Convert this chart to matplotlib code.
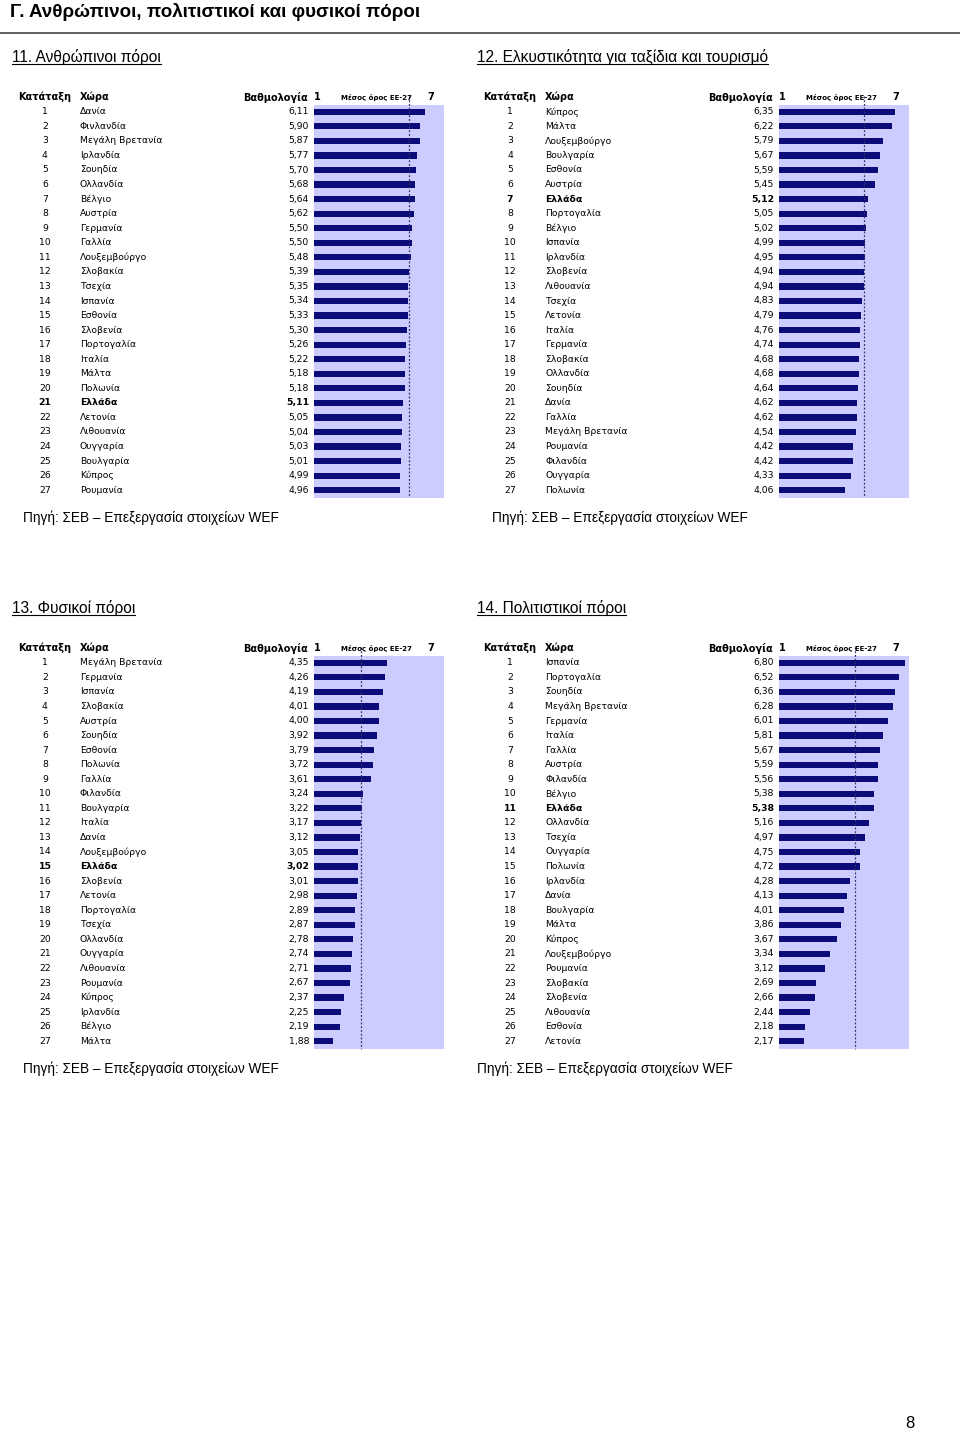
import matplotlib
matplotlib.use("Agg")
import matplotlib.pyplot as plt
import matplotlib.transforms as mtransforms
from matplotlib.lines import Line2D

# Δεδομένα
title_main = "Γ. Ανθρώπινοι, πολιτιστικοί και φυσικοί πόροι"
source = "Πηγή: ΣΕΒ – Επεξεργασία στοιχείων WEF"

t11 = "11. Ανθρώπινοι πόροι"
c11 = ["Δανία", "Φινλανδία", "Μεγάλη Βρετανία", "Ιρλανδία", "Σουηδία", "Ολλανδία",
       "Βέλγιο", "Αυστρία", "Γερμανία", "Γαλλία", "Λουξεμβούργο", "Σλοβακία",
       "Τσεχία", "Ισπανία", "Εσθονία", "Σλοβενία", "Πορτογαλία", "Ιταλία",
       "Μάλτα", "Πολωνία", "Ελλάδα", "Λετονία", "Λιθουανία", "Ουγγαρία",
       "Βουλγαρία", "Κύπρος", "Ρουμανία"]
v11 = [6.11, 5.90, 5.87, 5.77, 5.70, 5.68, 5.64, 5.62, 5.50, 5.50, 5.48, 5.39,
       5.35, 5.34, 5.33, 5.30, 5.26, 5.22, 5.18, 5.18, 5.11, 5.05, 5.04, 5.03,
       5.01, 4.99, 4.96]
m11 = 5.38

t12 = "12. Ελκυστικότητα για ταξίδια και τουρισμό"
c12 = ["Κύπρος", "Μάλτα", "Λουξεμβούργο", "Βουλγαρία", "Εσθονία", "Αυστρία",
       "Ελλάδα", "Πορτογαλία", "Βέλγιο", "Ισπανία", "Ιρλανδία", "Σλοβενία",
       "Λιθουανία", "Τσεχία", "Λετονία", "Ιταλία", "Γερμανία", "Σλοβακία",
       "Ολλανδία", "Σουηδία", "Δανία", "Γαλλία", "Μεγάλη Βρετανία", "Ρουμανία",
       "Φιλανδία", "Ουγγαρία", "Πολωνία"]
v12 = [6.35, 6.22, 5.79, 5.67, 5.59, 5.45, 5.12, 5.05, 5.02, 4.99, 4.95, 4.94,
       4.94, 4.83, 4.79, 4.76, 4.74, 4.68, 4.68, 4.64, 4.62, 4.62, 4.54, 4.42,
       4.42, 4.33, 4.06]
m12 = 4.91

t13 = "13. Φυσικοί πόροι"
c13 = ["Μεγάλη Βρετανία", "Γερμανία", "Ισπανία", "Σλοβακία", "Αυστρία", "Σουηδία",
       "Εσθονία", "Πολωνία", "Γαλλία", "Φιλανδία", "Βουλγαρία", "Ιταλία",
       "Δανία", "Λουξεμβούργο", "Ελλάδα", "Σλοβενία", "Λετονία", "Πορτογαλία",
       "Τσεχία", "Ολλανδία", "Ουγγαρία", "Λιθουανία", "Ρουμανία", "Κύπρος",
       "Ιρλανδία", "Βέλγιο", "Μάλτα"]
v13 = [4.35, 4.26, 4.19, 4.01, 4.00, 3.92, 3.79, 3.72, 3.61, 3.24, 3.22, 3.17,
       3.12, 3.05, 3.02, 3.01, 2.98, 2.89, 2.87, 2.78, 2.74, 2.71, 2.67, 2.37,
       2.25, 2.19, 1.88]
m13 = 3.19

t14 = "14. Πολιτιστικοί πόροι"
c14 = ["Ισπανία", "Πορτογαλία", "Σουηδία", "Μεγάλη Βρετανία", "Γερμανία", "Ιταλία",
       "Γαλλία", "Αυστρία", "Φιλανδία", "Βέλγιο", "Ελλάδα", "Ολλανδία",
       "Τσεχία", "Ουγγαρία", "Πολωνία", "Ιρλανδία", "Δανία", "Βουλγαρία",
       "Μάλτα", "Κύπρος", "Λουξεμβούργο", "Ρουμανία", "Σλοβακία", "Σλοβενία",
       "Λιθουανία", "Εσθονία", "Λετονία"]
v14 = [6.80, 6.52, 6.36, 6.28, 6.01, 5.81, 5.67, 5.59, 5.56, 5.38, 5.38, 5.16,
       4.97, 4.75, 4.72, 4.28, 4.13, 4.01, 3.86, 3.67, 3.34, 3.12, 2.69, 2.66,
       2.44, 2.18, 2.17]
m14 = 4.52

W, H = 960, 1434
fig = plt.figure(figsize=(W / 100, H / 100), dpi=100)
fig.patch.set_facecolor("white")

TF = "Liberation Sans"
TB = "DejaVu Sans"
fs = 6.7
fsh = 7.0
navy = "#0b0b7a"
lav = "#ccccff"


def fx(x):
    return x / W


def fy(y):
    return 1 - y / H


underline = []


def panel(title, countries, values, mean, ox, oy, src_x):
    t = fig.text(fx(12 + ox), fy(57 + oy), title, family=TF, fontsize=11.2,
                 va="center", ha="left")
    underline.append(t)
    ax = fig.add_axes([fx(314 + ox), fy(497.5 + oy), 130 / W, 393 / H])
    ranks = list(range(1, len(values) + 1))
    ax.barh(ranks, [v - 1 for v in values], left=1, height=0.42, color=navy)
    ax.set_xlim(1, 7)
    ax.set_ylim(27.5, 0.5)
    ax.axis("off")
    ax.add_patch(plt.Rectangle((1, 0.5), 6, 27, color=lav, zorder=0))
    ax.plot([mean, mean], [-0.1, 27.5], color="#333366", lw=0.9,
            ls=(0, (1.5, 1.5)), clip_on=False, zorder=3)

    tr = mtransforms.blended_transform_factory(fig.transFigure, ax.transData)
    hdr = dict(transform=tr, family=TB, fontsize=fsh, fontweight="bold", va="center")
    ax.text(fx(18 + ox), 0, "Κατάταξη", ha="left", **hdr)
    ax.text(fx(80 + ox), 0, "Χώρα", ha="left", **hdr)
    ax.text(fx(308 + ox), 0, "Βαθμολογία", ha="right", **hdr)
    ax.text(fx(314 + ox), 0, "1", ha="left", **hdr)
    ax.text(fx(431 + ox), 0, "7", ha="center", **hdr)
    ax.text(fx(376 + ox), 0, "Μέσος όρος ΕΕ-27", transform=tr, family=TB,
            fontsize=5.0, fontweight="bold", ha="center", va="center")

    for r, c, v in zip(ranks, countries, values):
        w = "bold" if c == "Ελλάδα" else "normal"
        kw = dict(transform=tr, family=TB, fontsize=fs, fontweight=w, va="center")
        ax.text(fx(45 + ox), r, str(r), ha="center", **kw)
        ax.text(fx(80 + ox), r, c, ha="left", **kw)
        ax.text(fx(309 + ox), r, f"{v:.2f}".replace(".", ","), ha="right", **kw)

    fig.text(fx(src_x), fy(518 + oy), source, family=TF, fontsize=9.8,
             va="center", ha="left")


fig.text(fx(10), fy(12), title_main, family=TF, fontsize=13.5, fontweight="bold",
         va="center", ha="left")
fig.add_artist(Line2D([0, 1], [fy(33), fy(33)], color="#444444", lw=1.2))

panel(t11, c11, v11, m11, 0, 0, 23)
panel(t12, c12, v12, m12, 465, 0, 492)
panel(t13, c13, v13, m13, 0, 551, 23)
panel(t14, c14, v14, m14, 465, 551, 477)

fig.text(fx(910), fy(1423), "8", family=TF, fontsize=12, va="center", ha="center")

# υπογράμμιση τίτλων
fig.canvas.draw()
for t in underline:
    bb = t.get_window_extent()
    y = (bb.y0 + 1) / H
    fig.add_artist(Line2D([bb.x0 / W, bb.x1 / W], [y, y], color="black", lw=0.8))

fig.savefig("out.png", dpi=100)
